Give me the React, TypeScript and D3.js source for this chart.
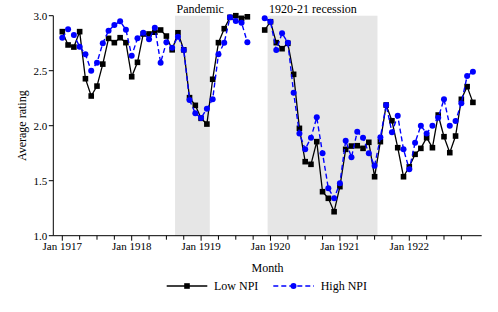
import React, { useRef, useEffect } from "react";
import * as d3 from "d3";

// month index 0 = Jan 1917, 71 = Dec 1922 (Oct/Nov 1919 missing)
const lowNPI: (number | null)[] = [
  2.855, 2.734, 2.715, 2.855, 2.427, 2.27, 2.36, 2.56, 2.794, 2.755, 2.8, 2.755,
  2.445, 2.576, 2.834, 2.834, 2.85, 2.87, 2.815, 2.69, 2.845, 2.69, 2.255, 2.185,
  2.067, 2.015, 2.422, 2.755, 2.882, 2.985, 3.0, 2.976, 2.99, null, null, 2.87,
  2.945, 2.755, 2.7, 2.749, 2.467, 1.976, 1.673, 1.649, 1.855, 1.4, 1.34, 1.218,
  1.446, 1.785, 1.815, 1.818, 1.794, 1.849, 1.536, 1.855, 2.188, 2.045, 1.8, 1.536,
  1.627, 1.74, 1.794, 1.891, 1.8, 2.097, 1.9, 1.755, 1.906, 2.24, 2.355, 2.212,
];
const highNPI: (number | null)[] = [
  2.8, 2.876, 2.824, 2.718, 2.649, 2.5, 2.573, 2.749, 2.864, 2.915, 2.949, 2.873,
  2.636, 2.794, 2.846, 2.785, 2.891, 2.573, 2.758, 2.709, 2.809, 2.688, 2.234, 2.113,
  2.07, 2.155, 2.24, 2.649, 2.755, 2.985, 2.952, 2.936, 2.758, null, null, 2.976,
  2.945, 2.688, 2.84, 2.755, 2.3, 1.93, 1.785, 1.891, 2.076, 1.749, 1.431, 1.34,
  1.476, 1.864, 1.713, 1.945, 1.891, 1.749, 1.636, 1.894, 2.188, 1.94, 2.09, 1.785,
  1.603, 1.845, 2.0, 1.93, 2.0, 2.073, 2.24, 2.0, 2.043, 2.204, 2.452, 2.49,
];
const yearLabels = ["Jan 1917", "Jan 1918", "Jan 1919", "Jan 1920", "Jan 1921", "Jan 1922"];
const yTicks = [1.0, 1.5, 2.0, 2.5, 3.0];
// shaded periods, [first month, last month] as month indices
const periods = [
  { label: "Pandemic", start: 20, end: 25 },
  { label: "1920-21 recession", start: 36, end: 54 },
];

const App = () => {
  const svgRef = useRef<SVGSVGElement>(null);

  useEffect(() => {
    const svg = d3.select(svgRef.current);
    svg.selectAll("*").remove();
    const font = "Liberation Serif, Times New Roman, serif";

    const x = d3.scaleLinear().domain([-1.556, 72.52]).range([53.3, 481.7]);
    const y = d3.scaleLinear().domain([1, 3]).range([235.7, 15.7]);

    // shading
    const g = svg.append("g");
    periods.forEach((p) => {
      g.append("rect")
        .attr("x", x(p.start - 0.5))
        .attr("y", y(3))
        .attr("width", x(p.end + 0.5) - x(p.start - 0.5))
        .attr("height", y(1) - y(3))
        .attr("fill", "#e6e6e6");
      g.append("text")
        .attr("x", x(p.start - 0.5) + 1.5)
        .attr("y", 13)
        .attr("font-family", font)
        .attr("font-size", 12)
        .text(p.label);
    });

    // axes
    const majorTicks = yearLabels.map((_, i) => i * 12);
    const minorTicks = d3.range(0, 72, 3).filter((m) => m % 12 !== 0);

    const xAxis = svg.append("g").attr("transform", `translate(0,${y(1)})`);
    xAxis.append("line").attr("x1", x.range()[0]).attr("x2", x.range()[1]).attr("stroke", "#000").attr("stroke-width", 1);
    xAxis.selectAll(".minor").data(minorTicks).enter().append("line")
      .attr("x1", (d) => x(d)).attr("x2", (d) => x(d)).attr("y1", 0).attr("y2", 4)
      .attr("stroke", "#000");
    xAxis.selectAll(".major").data(majorTicks).enter().append("line")
      .attr("x1", (d) => x(d)).attr("x2", (d) => x(d)).attr("y1", 0).attr("y2", 5)
      .attr("stroke", "#000");
    xAxis.selectAll("text").data(majorTicks).enter().append("text")
      .attr("x", (d) => x(d)).attr("y", 14)
      .attr("text-anchor", "middle").attr("font-family", font).attr("font-size", 11)
      .text((_, i) => yearLabels[i]);

    const yAxis = svg.append("g").attr("transform", `translate(${x.range()[0]},0)`);
    yAxis.append("line").attr("y1", y(1)).attr("y2", y(3)).attr("stroke", "#000");
    yAxis.selectAll("line.t").data(yTicks).enter().append("line")
      .attr("x1", -4.5).attr("x2", 0).attr("y1", (d) => y(d)).attr("y2", (d) => y(d))
      .attr("stroke", "#000");
    yAxis.selectAll("text").data(yTicks).enter().append("text")
      .attr("x", -6).attr("y", (d) => y(d) + 4)
      .attr("text-anchor", "end").attr("font-family", font).attr("font-size", 11)
      .text((d) => d3.format(".1f")(d));

    svg.append("text")
      .attr("transform", `translate(26,${(y(1) + y(3)) / 2}) rotate(-90)`)
      .attr("text-anchor", "middle").attr("font-family", font).attr("font-size", 12)
      .text("Average rating");
    svg.append("text")
      .attr("x", 267.5).attr("y", 271.5)
      .attr("text-anchor", "middle").attr("font-family", font).attr("font-size", 12)
      .text("Month");

    // series
    const line = d3.line<number | null>()
      .defined((d) => d != null)
      .x((_, i) => x(i))
      .y((d) => y(d as number));

    const pts = (arr: (number | null)[]) =>
      arr.map((v, i) => ({ v, i })).filter((d) => d.v != null) as { v: number; i: number }[];

    svg.append("path").datum(lowNPI).attr("d", line)
      .attr("fill", "none").attr("stroke", "#000").attr("stroke-width", 1.3);
    svg.append("g").selectAll("rect").data(pts(lowNPI)).enter().append("rect")
      .attr("x", (d) => x(d.i) - 2.8).attr("y", (d) => y(d.v) - 2.8)
      .attr("width", 5.6).attr("height", 5.6).attr("fill", "#000");

    svg.append("path").datum(highNPI).attr("d", line)
      .attr("fill", "none").attr("stroke", "#0000ff").attr("stroke-width", 1.4)
      .attr("stroke-dasharray", "5,3");
    svg.append("g").selectAll("circle").data(pts(highNPI)).enter().append("circle")
      .attr("cx", (d) => x(d.i)).attr("cy", (d) => y(d.v)).attr("r", 3)
      .attr("fill", "#0000ff");

    // legend
    const lg = svg.append("g").attr("transform", "translate(0,286)");
    lg.append("line").attr("x1", 166.7).attr("x2", 207.3).attr("stroke", "#000").attr("stroke-width", 1.3);
    lg.append("rect").attr("x", 187 - 2.8).attr("y", -2.8).attr("width", 5.6).attr("height", 5.6).attr("fill", "#000");
    lg.append("text").attr("x", 214).attr("y", 4).attr("font-family", font).attr("font-size", 12).text("Low NPI");
    lg.append("line").attr("x1", 273.3).attr("x2", 314).attr("stroke", "#0000ff").attr("stroke-width", 1.4)
      .attr("stroke-dasharray", "5,3");
    lg.append("circle").attr("cx", 293.5).attr("cy", 0).attr("r", 3).attr("fill", "#0000ff");
    lg.append("text").attr("x", 320.7).attr("y", 4).attr("font-family", font).attr("font-size", 12).text("High NPI");
  }, []);

  return (
    <svg
      ref={svgRef}
      width={498}
      height={312}
      style={{ position: "absolute", left: 0, top: 0, background: "#fff" }}
    />
  );
};

export default App;
